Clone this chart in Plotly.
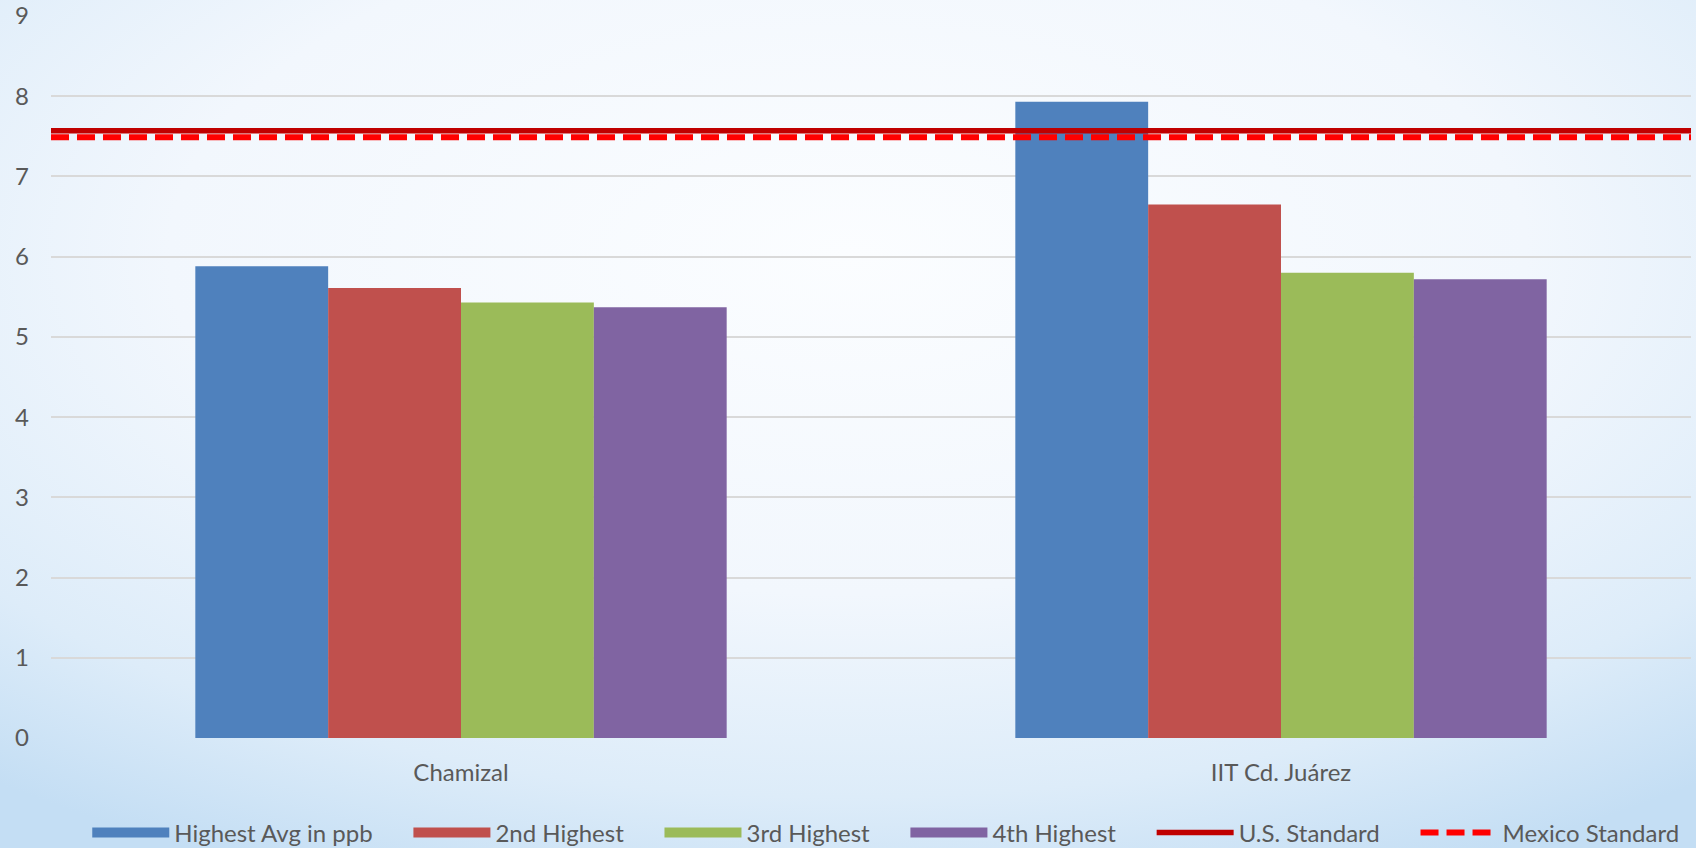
import base64
import plotly.graph_objects as go

# data
sites = ["Chamizal", "IIT Cd. Juárez"]
highest_avg = [5.88, 7.93]
second_highest = [5.61, 6.65]
third_highest = [5.43, 5.80]
fourth_highest = [5.37, 5.72]
us_standard = 7.57
mexico_standard = 7.49

bar_series = [
    ("Highest Avg in ppb", highest_avg, "#4f81bd"),
    ("2nd Highest", second_highest, "#c0504d"),
    ("3rd Highest", third_highest, "#9bbb59"),
    ("4th Highest", fourth_highest, "#8064a2"),
]

W, H = 1696, 848
ML, MR, MT, MB = 51, 5, 16, 110
txt = "#595959"
fnt = "Lato, 'Open Sans', sans-serif"
pad = "\u00a0" * 5  # extra room between legend entries

fig = go.Figure()
for name, vals, col in bar_series:
    fig.add_trace(go.Bar(x=sites, y=vals, name=name, showlegend=False,
                         marker=dict(color=col, line=dict(width=0))))
# legend keys drawn as wide thick swatches (like the original)
for name, vals, col in bar_series:
    fig.add_trace(go.Scatter(x=[None], y=[None], mode="lines", name=name + pad,
                             line=dict(color=col, width=17)))

# standards drawn across the full width on a hidden overlay axis
fig.add_trace(go.Scatter(x=[0, 1], y=[us_standard] * 2, xaxis="x2", mode="lines", name="U.S. Standard" + pad,
                         line=dict(color="#c00000", width=5.5)))
fig.add_trace(go.Scatter(x=[0, 1], y=[mexico_standard] * 2, xaxis="x2", mode="lines", name="Mexico Standard",
                         line=dict(color="#ff0000", width=6, dash="18px,8px")))

# soft blue background like the slide
svg = f'''<svg xmlns="http://www.w3.org/2000/svg" width="{W}" height="{H}" preserveAspectRatio="none">
<defs><radialGradient id="g" cx="50%" cy="30%" r="80%">
<stop offset="0" stop-color="#fbfdff"/><stop offset="0.5" stop-color="#f2f7fd"/>
<stop offset="0.8" stop-color="#ddecf9"/><stop offset="1" stop-color="#c4def4"/>
</radialGradient></defs><rect width="100%" height="100%" fill="url(#g)"/></svg>'''
src = "data:image/svg+xml;base64," + base64.b64encode(svg.encode()).decode()
pw, ph = W - ML - MR, H - MT - MB

fig.update_layout(
    width=W, height=H,
    margin=dict(l=ML, r=MR, t=MT, b=MB, autoexpand=False),
    barmode="group", bargap=0.352, bargroupgap=0,
    paper_bgcolor="#eef5fc", plot_bgcolor="rgba(0,0,0,0)",
    font=dict(family=fnt, size=22, color=txt),
    images=[dict(source=src, xref="paper", yref="paper", x=-ML / pw, y=1 + MT / ph,
                 sizex=W / pw, sizey=H / ph, sizing="stretch", layer="below")],
    xaxis=dict(showgrid=False, zeroline=False, showline=False, ticks="",
               tickfont=dict(size=24, color=txt), ticklabelstandoff=18),
    xaxis2=dict(overlaying="x", range=[0, 1], visible=False),
    yaxis=dict(range=[0, 9], dtick=1, showgrid=True, gridcolor="#d9d9d9", gridwidth=1.5,
               zeroline=False, showline=False, ticks="", tickfont=dict(size=24, color=txt),
               ticklabelstandoff=21),
    legend=dict(orientation="h", x=0.509, xanchor="center", y=-0.1316, yanchor="middle",
                font=dict(size=24, color=txt), bgcolor="rgba(0,0,0,0)",
                itemwidth=77, traceorder="normal"),
    showlegend=True,
)

fig.write_html("out.html", config={"displayModeBar": False},
               post_script="document.body.style.margin='0';")
